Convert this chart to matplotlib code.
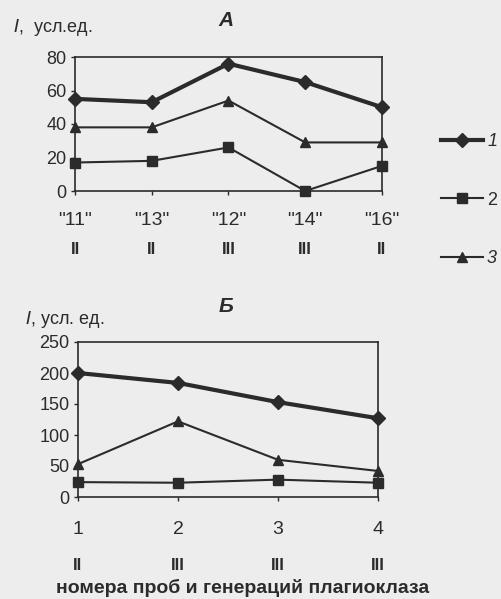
import matplotlib.pyplot as plt
from matplotlib.lines import Line2D

plt.rcParams['font.family'] = ['Liberation Sans', 'DejaVu Sans']

# panel A data
samples_a = ['"11"', '"13"', '"12"', '"14"', '"16"']
gen_a = ['II', 'II', 'III', 'III', 'II']
a_s1 = [55, 53, 76, 65, 50]
a_s2 = [17, 18, 26, 0, 15]
a_s3 = [38, 38, 54, 29, 29]

# panel B data
samples_b = ['1', '2', '3', '4']
gen_b = ['II', 'III', 'III', 'III']
b_s1 = [200, 184, 153, 127]
b_s2 = [24, 23, 28, 23]
b_s3 = [53, 122, 60, 42]

ink = '#2b2b2b'
paper = '#ededed'

W, H = 502, 599
fig = plt.figure(figsize=(W / 100, H / 100), dpi=100, facecolor=paper)


def box(l, t, r, b):
    return [l / W, 1 - b / H, (r - l) / W, (b - t) / H]


def style(ax, ymax, step):
    ax.set_facecolor('none')
    for s in ax.spines.values():
        s.set_color(ink)
        s.set_linewidth(1.2)
    ax.set_ylim(0, ymax)
    ax.set_yticks(range(0, ymax + 1, step))
    ax.tick_params(colors=ink, labelsize=13, length=3, width=1, pad=3)


def draw(ax, x, s1, s2, s3):
    ax.plot(x, s1, color=ink, lw=3, marker='D', ms=7, clip_on=False, label='1')
    ax.plot(x, s2, color=ink, lw=1.5, marker='s', ms=7, clip_on=False, label='2')
    ax.plot(x, s3, color=ink, lw=1.5, marker='^', ms=7, clip_on=False, label='3')


# ---- panel A
axA = fig.add_axes(box(75, 57, 382, 191))
xa = list(range(len(samples_a)))
draw(axA, xa, a_s1, a_s2, a_s3)
style(axA, 80, 20)
axA.set_xlim(0, len(samples_a) - 1)
axA.set_xticks(xa)
axA.set_xticklabels(samples_a, fontsize=14)
axA.tick_params(axis='x', pad=12)
for i, g in enumerate(gen_a):
    axA.text(i, -0.44, g, transform=axA.get_xaxis_transform(), ha='center',
             va='center', fontsize=12, fontweight='bold', color=ink)
fig.text(226 / W, 1 - 20 / H, 'A', ha='center', va='center', fontsize=15,
         fontweight='bold', fontstyle='italic', color=ink)
fig.text(13 / W, 1 - 28 / H, '$\\it{I}$,  усл.ед.', ha='left', va='center',
         fontsize=13, color=ink)

# ---- panel B
axB = fig.add_axes(box(78, 342, 378, 497))
xb = list(range(len(samples_b)))
draw(axB, xb, b_s1, b_s2, b_s3)
style(axB, 250, 50)
axB.set_xlim(0, len(samples_b) - 1)
axB.set_xticks(xb)
axB.set_xticklabels(samples_b, fontsize=14)
axB.tick_params(axis='x', pad=14)
for i, g in enumerate(gen_b):
    axB.text(i, -0.44, g, transform=axB.get_xaxis_transform(), ha='center',
             va='center', fontsize=12, fontweight='bold', color=ink)
fig.text(226 / W, 1 - 306 / H, 'Б', ha='center', va='center', fontsize=15,
         fontweight='bold', fontstyle='italic', color=ink)
fig.text(25 / W, 1 - 320 / H, '$\\it{I}$, усл. ед.', ha='left', va='center',
         fontsize=13, color=ink)
fig.text(243 / W, 1 - 588 / H, 'номера проб и генераций плагиоклаза', ha='center',
         va='center', fontsize=14, fontweight='bold', color=ink)

# ---- legend
handles = [
    Line2D([], [], color=ink, lw=3, marker='D', ms=7),
    Line2D([], [], color=ink, lw=1.5, marker='s', ms=7),
    Line2D([], [], color=ink, lw=1.5, marker='^', ms=7),
]
leg = fig.legend(handles, ['1', '2', '3'], loc='upper left',
                 bbox_to_anchor=(441 / W, 1 - 133 / H), frameon=False,
                 labelspacing=2.3, handlelength=2.3, handletextpad=0.25,
                 fontsize=13, borderpad=0, borderaxespad=0)
for t, st in zip(leg.get_texts(), ['italic', 'normal', 'italic']):
    t.set_color(ink)
    t.set_fontstyle(st)

fig.savefig('out.png', dpi=100, facecolor=paper)
